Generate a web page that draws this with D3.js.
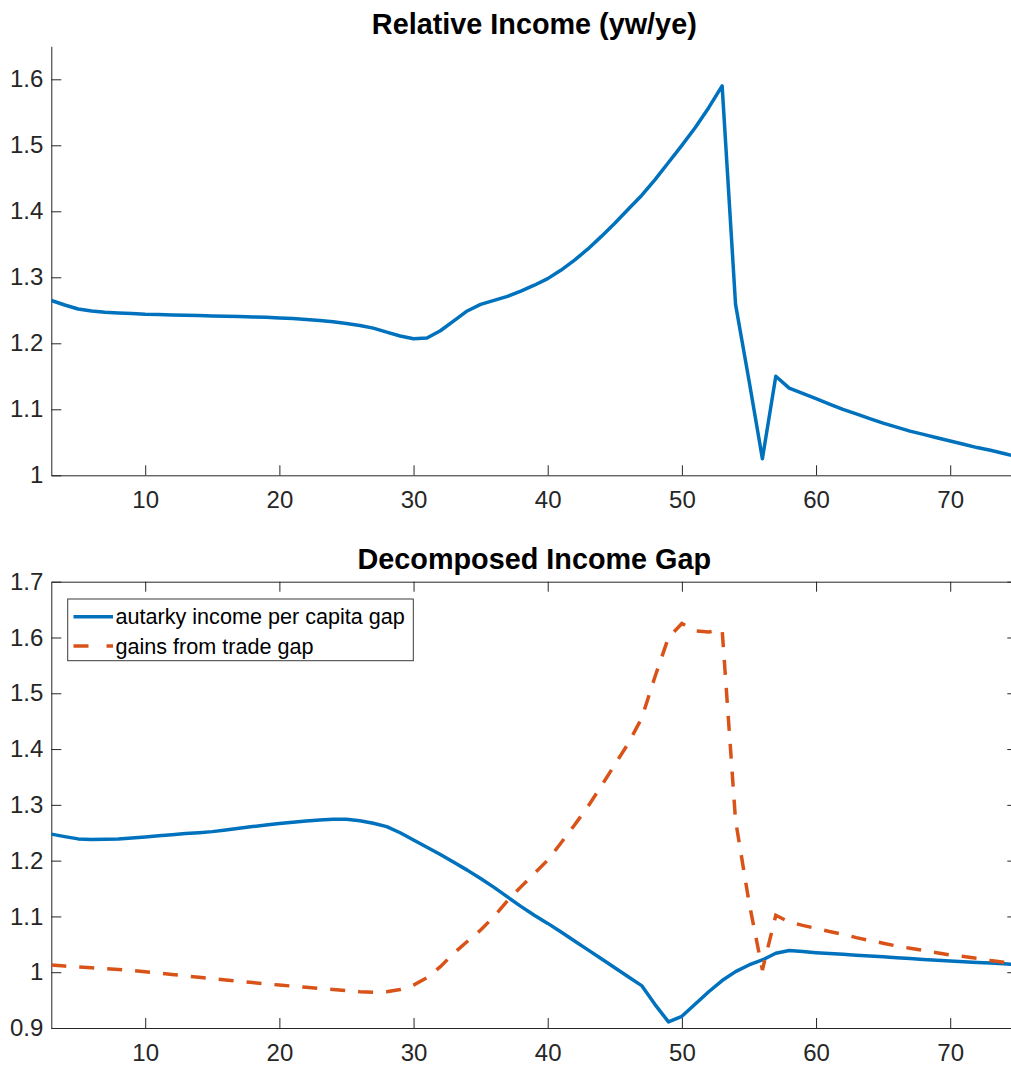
<!DOCTYPE html>
<html>
<head>
<meta charset="utf-8">
<script src="https://cdn.jsdelivr.net/npm/d3@7"></script>
<style>
  body { margin: 0; background: #fff; }
  svg { display: block; font-family: "Liberation Sans", Arial, Helvetica, sans-serif; }
  .tick text { fill: #262626; font-size: 24px; font-family: "Liberation Sans", Arial, Helvetica, sans-serif; }
  .tick line, .domain { stroke: #262626; stroke-width: 1; }
</style>
</head>
<body>
<svg id="chart" width="1011" height="1066"></svg>
<script>
// --- Data ---
const periods = d3.range(3, 76); // 3 .. 75

const relativeIncome = [
  1.265, 1.258, 1.252, 1.249, 1.247, 1.246, 1.245, 1.244, 1.2435, 1.243,   // 3-12
  1.2425, 1.242, 1.2415, 1.241, 1.2405, 1.240, 1.2393, 1.2385, 1.2375, 1.236, // 13-22
  1.2345, 1.2325, 1.230, 1.227, 1.223, 1.217, 1.211, 1.207, 1.208, 1.219,    // 23-32
  1.234, 1.249, 1.259, 1.265, 1.271, 1.279, 1.288, 1.298, 1.311, 1.326,      // 33-42
  1.343, 1.362, 1.382, 1.403, 1.424, 1.448, 1.474, 1.500, 1.527, 1.557,      // 43-52
  1.590, 1.259, 1.144, 1.025, 1.150, 1.132, 1.124, 1.116, 1.108, 1.100,      // 53-62
  1.093, 1.086, 1.079, 1.073, 1.067, 1.062, 1.057, 1.052, 1.047, 1.042,      // 63-72
  1.038, 1.033, 1.028                                                         // 73-75
];

const autarkyGap = [
  1.2475, 1.243, 1.239, 1.238, 1.2385, 1.239, 1.2405, 1.2425, 1.2445, 1.2465, // 3-12
  1.2485, 1.250, 1.252, 1.255, 1.258, 1.261, 1.264, 1.2666, 1.269, 1.271,     // 13-22
  1.273, 1.274, 1.274, 1.2715, 1.267, 1.261, 1.250, 1.237, 1.224, 1.211,      // 23-32
  1.197, 1.183, 1.168, 1.152, 1.135, 1.118, 1.102, 1.0875, 1.072, 1.056,      // 33-42
  1.040, 1.024, 1.008, 0.992, 0.976, 0.942, 0.911, 0.921, 0.943, 0.965,       // 43-52
  0.985, 1.001, 1.013, 1.022, 1.034, 1.039, 1.037, 1.035, 1.0335, 1.032,      // 53-62
  1.0305, 1.029, 1.0275, 1.026, 1.0245, 1.023, 1.0215, 1.020, 1.0187, 1.0175, // 63-72
  1.0163, 1.015, 1.014                                                        // 73-75
];

const tradeGap = [
  1.0128, 1.011, 1.0095, 1.008, 1.0065, 1.005, 1.003, 1.001, 0.9985, 0.996,   // 3-12
  0.9935, 0.991, 0.9885, 0.986, 0.984, 0.9815, 0.979, 0.977, 0.975, 0.973,    // 13-22
  0.971, 0.969, 0.967, 0.965, 0.964, 0.965, 0.969, 0.977, 0.990, 1.010,       // 23-32
  1.034, 1.055, 1.0755, 1.100, 1.128, 1.153, 1.177, 1.201, 1.232, 1.264,      // 33-42
  1.297, 1.334, 1.372, 1.410, 1.455, 1.530, 1.600, 1.625, 1.612, 1.610,       // 43-52
  1.614, 1.272, 1.126, 1.004, 1.102, 1.090, 1.084, 1.0786, 1.073, 1.068,      // 53-62
  1.062, 1.057, 1.052, 1.047, 1.043, 1.039, 1.035, 1.031, 1.028, 1.025,       // 63-72
  1.021, 1.018, 1.015                                                         // 73-75
];

const xTicks = [10, 20, 30, 40, 50, 60, 70];
const topYTicks = [1, 1.1, 1.2, 1.3, 1.4, 1.5, 1.6];
const bottomYTicks = [0.9, 1, 1.1, 1.2, 1.3, 1.4, 1.5, 1.6, 1.7];
const titles = ["Relative Income (yw/ye)", "Decomposed Income Gap"];
const legendLabels = ["autarky income per capita gap", "gains from trade gap"];

const BLUE = "#0072BD", RED = "#D95319";

const svg = d3.select("#chart");
const left = 51.3, right = 1017.3;

const x = d3.scaleLinear().domain([3, 75]).range([left, right]);

function tickFmt(d) { return d3.format("")(+d.toFixed(1)); }

// --- Top panel ---
const yTop = d3.scaleLinear().domain([1, 1.65]).range([475.3, 46.3]);

svg.append("defs").append("clipPath").attr("id", "clipTop")
  .append("rect").attr("x", left).attr("y", 46.3).attr("width", right - left).attr("height", 475.3 - 46.3);

svg.append("g").attr("transform", `translate(0,${yTop(1)})`)
  .call(d3.axisBottom(x).tickValues(xTicks).tickSizeInner(-10).tickSizeOuter(0).tickPadding(16));
svg.append("g").attr("transform", `translate(${left},0)`)
  .call(d3.axisLeft(yTop).tickValues(topYTicks).tickFormat(tickFmt).tickSizeInner(-10).tickSizeOuter(0).tickPadding(8));

const line = (yScale) => d3.line().x((d, i) => x(periods[i])).y(d => yScale(d));

svg.append("path").datum(relativeIncome)
  .attr("clip-path", "url(#clipTop)")
  .attr("fill", "none").attr("stroke", BLUE).attr("stroke-width", 3.5)
  .attr("stroke-linejoin", "round")
  .attr("d", line(yTop));

svg.append("text").attr("x", (left + right) / 2).attr("y", 33.5)
  .attr("text-anchor", "middle").attr("font-size", 28.8).attr("font-weight", "bold")
  .attr("fill", "#000").text(titles[0]);

// --- Bottom panel ---
const yBot = d3.scaleLinear().domain([0.9, 1.7]).range([1028, 581.7]);

svg.select("defs").append("clipPath").attr("id", "clipBot")
  .append("rect").attr("x", left).attr("y", 581.7).attr("width", right - left).attr("height", 1028 - 581.7);

svg.append("g").attr("transform", `translate(0,${yBot(0.9)})`)
  .call(d3.axisBottom(x).tickValues(xTicks).tickSizeInner(-10).tickSizeOuter(0).tickPadding(16));
svg.append("g").attr("transform", `translate(0,${yBot(1.7)})`)
  .call(d3.axisTop(x).tickValues(xTicks).tickFormat("").tickSizeInner(-10).tickSizeOuter(0));
svg.append("g").attr("transform", `translate(${left},0)`)
  .call(d3.axisLeft(yBot).tickValues(bottomYTicks).tickFormat(tickFmt).tickSizeInner(-10).tickSizeOuter(0).tickPadding(8));
svg.append("g").attr("transform", `translate(${right},0)`)
  .call(d3.axisRight(yBot).tickValues(bottomYTicks).tickFormat("").tickSizeInner(-10).tickSizeOuter(0));

svg.append("path").datum(autarkyGap)
  .attr("clip-path", "url(#clipBot)")
  .attr("fill", "none").attr("stroke", BLUE).attr("stroke-width", 3.5)
  .attr("stroke-linejoin", "round")
  .attr("d", line(yBot));

svg.append("path").datum(tradeGap)
  .attr("clip-path", "url(#clipBot)")
  .attr("fill", "none").attr("stroke", RED).attr("stroke-width", 3.5)
  .attr("stroke-dasharray", "15,13")
  .attr("d", line(yBot));

svg.append("text").attr("x", (left + right) / 2).attr("y", 568.5)
  .attr("text-anchor", "middle").attr("font-size", 28.8).attr("font-weight", "bold")
  .attr("fill", "#000").text(titles[1]);

// --- Legend ---
const legend = svg.append("g");
legend.append("rect").attr("x", 67.7).attr("y", 599).attr("width", 413.3 - 67.7).attr("height", 660.7 - 599)
  .attr("fill", "#fff").attr("stroke", "#3a3a3a").attr("stroke-width", 1);

const legendRows = [
  { label: legendLabels[0], color: BLUE, dash: null, y: 616.7 },
  { label: legendLabels[1], color: RED, dash: "15,18", y: 646 }
];
legendRows.forEach(r => {
  legend.append("line").attr("x1", 73.5).attr("x2", 113).attr("y1", r.y).attr("y2", r.y)
    .attr("stroke", r.color).attr("stroke-width", 3.5)
    .attr("stroke-dasharray", r.dash);
  legend.append("text").attr("x", 115.5).attr("y", r.y).attr("dy", "0.35em")
    .attr("font-size", 21.6).attr("fill", "#000").text(r.label);
});
</script>
</body>
</html>
